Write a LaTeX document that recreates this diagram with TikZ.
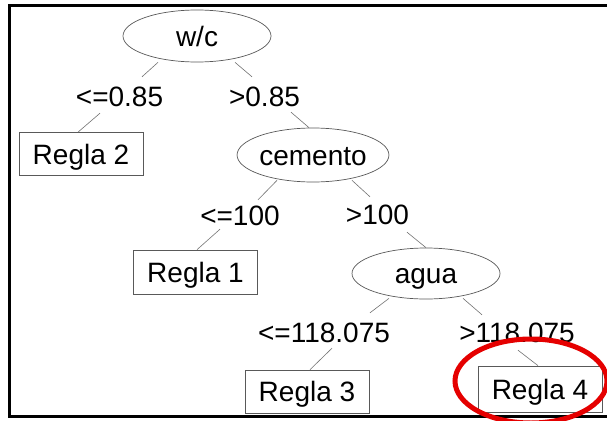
\documentclass[tikz,border=0pt]{standalone}
\usepackage{fontspec}
\setmainfont{Liberation Sans}
\usetikzlibrary{shapes.geometric,calc}
\tikzset{
  splitnode/.style={ellipse, draw=black!65, line width=0.7pt, inner sep=0pt,
    minimum width=148pt, minimum height=52pt, text height=20pt, text depth=0pt,
    font=\fontsize{28}{30}\selectfont},
  leafbox/.style={rectangle, draw=black!65, line width=0.7pt, inner sep=0pt,
    minimum width=124pt, minimum height=43pt, text height=20pt, text depth=0pt,
    font=\fontsize{28}{30}\selectfont},
  cond/.style={inner sep=0pt, text height=20pt, text depth=0pt,
    font=\fontsize{28}{30}\selectfont},
  conn/.style={draw=black!55, line width=0.6pt},
  frame/.style={draw=black, line width=3pt},
  highlight/.style={draw=red!90!black, line width=5pt}
}
\begin{document}
\begin{tikzpicture}[x=1pt,y=-1pt]
\useasboundingbox (0,0) rectangle (607,420);
\clip (0,0) rectangle (607,420);
\fill[white] (0,0) rectangle (607,420);
% frame
\draw[frame] (612,6) -- (9,6) -- (9,416) -- (612,416);
% nodes
\node[splitnode] (wc) at (197,36) {w/c};
\node[cond] (l1) at (119.5,96) {<=0.85};
\node[cond] (l2) at (264.5,96) {>0.85};
\node[leafbox] (r2) at (81,154) {Regla 2};
\node[splitnode, minimum width=146pt, minimum height=54pt] (cem) at (313,155) {cemento};
\node[cond] (l3) at (240,215) {<=100};
\node[cond] (l4) at (377.5,214.5) {>100};
\node[leafbox, minimum height=44pt] (r1) at (195.5,272) {Regla 1};
\node[splitnode, minimum height=51pt] (agua) at (426,273.5) {agua};
\node[cond] (l5) at (324,332.5) {<=118.075};
\node[cond] (l6) at (517,332) {>118.075};
\node[leafbox] (r3) at (307,391.5) {Regla 3};
\node[leafbox, minimum height=46pt] (r4) at (540,389) {Regla 4};
% connectors
\draw[conn] ($(wc.south)+(-39,0)$) -- ($(l1.north)+(22.5,-9)$);
\draw[conn] ($(wc.south)+(38,0)$) -- ($(l2.north)+(-12.5,-9)$);
\draw[conn] ($(l1.south)+(-19.5,7)$) -- ($(r2.north)+(-3,0)$);
\draw[conn] ($(l2.south)+(26.5,6)$) -- ($(cem.north)+(-4,0)$);
\draw[conn] ($(cem.south)+(-36,-2)$) -- ($(l3.north)+(18,-5)$);
\draw[conn] ($(cem.south)+(39,-2)$) -- ($(l4.north)+(-7.5,-7.5)$);
\draw[conn] ($(l3.south)+(-20,4)$) -- ($(r1.north)+(1.5,0)$);
\draw[conn] ($(l4.south)+(29.5,7.5)$) -- (agua.north);
\draw[conn] ($(agua.south)+(-37,-1)$) -- ($(l5.north)+(46,-9.5)$);
\draw[conn] ($(agua.south)+(37,-1)$) -- ($(l6.north)+(-35,-7)$);
\draw[conn] ($(l5.south)+(8,5.5)$) -- ($(r3.north)+(3,0)$);
\draw[conn] ($(l6.south)+(1,8)$) -- ($(r4.north)+(-2,0)$);
% highlight
\draw[highlight] (531,381) ellipse [x radius=76, y radius=42];
\end{tikzpicture}
\end{document}
